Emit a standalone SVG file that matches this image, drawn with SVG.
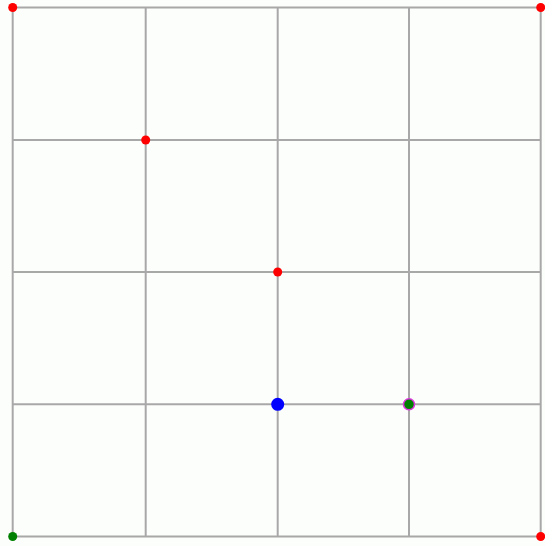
<svg xmlns="http://www.w3.org/2000/svg" width="545" height="546" viewBox="0 0 545 546">
<style>
.grid line{stroke:#a8a8a8;stroke-width:2}
.red{fill:#ff0000}
</style>
<rect width="545" height="546" fill="#fcfefb"/>
<g id="connectors" class="grid">
<line x1="12.7" y1="7.5" x2="12.7" y2="536.5"/>
<line x1="145.7" y1="7.5" x2="145.7" y2="536.5"/>
<line x1="277.7" y1="7.5" x2="277.7" y2="536.5"/>
<line x1="409" y1="7.5" x2="409" y2="536.5"/>
<line x1="540.7" y1="7.5" x2="540.7" y2="536.5"/>
<line x1="12.7" y1="7.5" x2="540.7" y2="7.5"/>
<line x1="12.7" y1="140" x2="540.7" y2="140"/>
<line x1="12.7" y1="272" x2="540.7" y2="272"/>
<line x1="12.7" y1="404.3" x2="540.7" y2="404.3"/>
<line x1="12.7" y1="536.5" x2="540.7" y2="536.5"/>
</g>
<g id="n_tl"><circle class="red" cx="12.7" cy="7.5" r="4.5"/></g>
<g id="n_tr"><circle class="red" cx="540.7" cy="7.5" r="4.5"/></g>
<g id="n_br"><circle class="red" cx="540.7" cy="536.5" r="4.5"/></g>
<g id="n_bl"><circle fill="#008000" cx="12.7" cy="536.5" r="4.5"/></g>
<g id="n_a"><circle class="red" cx="145.7" cy="140" r="4.5"/></g>
<g id="n_b"><circle class="red" cx="277.7" cy="272" r="4.5"/></g>
<g id="n_blue"><circle fill="#0000ff" cx="277.7" cy="404.3" r="6.5"/></g>
<g id="n_green"><circle fill="#008000" stroke="#dd33dd" stroke-width="1.5" cx="409" cy="404.3" r="5.5"/></g>
</svg>
